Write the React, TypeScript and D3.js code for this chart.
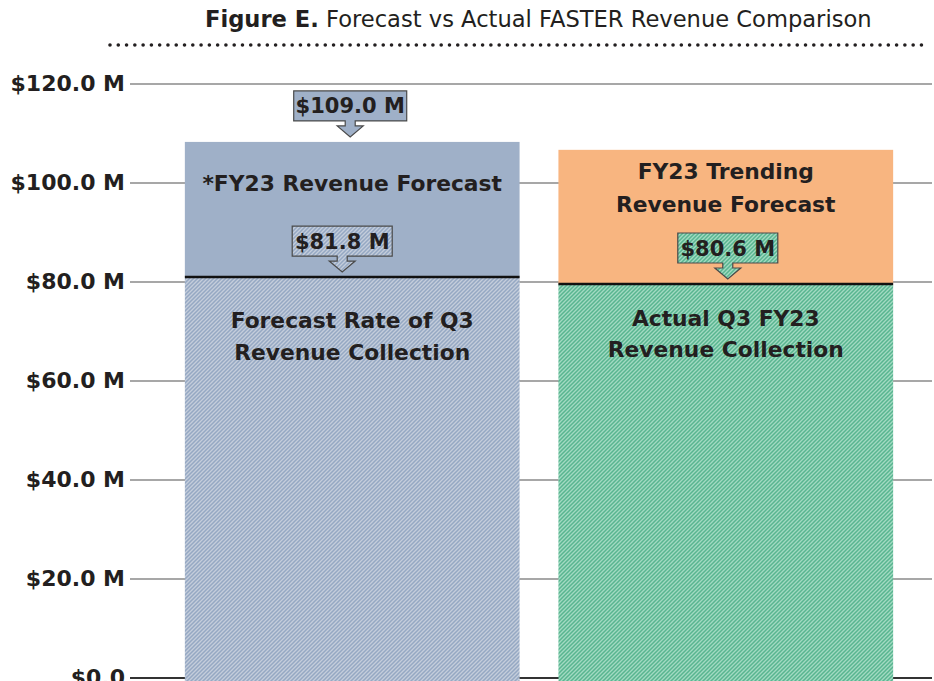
import React from "react";
import * as d3 from "d3";

// ---------- data ----------
const categories = ["Forecast", "Actual"];
const collectedValues = [81.0, 79.6]; // lower (hatched) segment, $M
const totalValues = [108.3, 106.7]; // full bar height, $M
const lowerLabels = [
  ["Forecast Rate of Q3", "Revenue Collection"],
  ["Actual Q3 FY23", "Revenue Collection"],
];
const upperLabels = [["*FY23 Revenue Forecast"], ["FY23 Trending", "Revenue Forecast"]];
const calloutTexts = ["$109.0 M", "$81.8 M", "$80.6 M"];
const calloutBars = [0, 0, 1];
const calloutOnTotal = [true, false, false];
const yTicks = [0, 20, 40, 60, 80, 100, 120];
const yTickLabels = ["$0.0", "$20.0 M", "$40.0 M", "$60.0 M", "$80.0 M", "$100.0 M", "$120.0 M"];
const titleBold = "Figure E.";
const titleRest = " Forecast vs Actual FASTER Revenue Comparison";

// ---------- layout ----------
const W = 934;
const H = 681;
const FONT = "'DejaVu Sans', Verdana, sans-serif";
const TEXT = "#231f20";

const y = d3.scaleLinear().domain([0, 120]).range([678, 84]);
const x = d3.scaleBand<string>().domain(categories).range([146, 932]).paddingInner(0.104).paddingOuter(0.104);

const upperFill = ["#9fb0c8", "#f8b580"];
const hatchIds = ["hatchBlue", "hatchGreen"];
const lowerLabelOffsets = [[51, 83], [42, 73]];
const upperLabelOffsets = [[-86], [-105, -72]];
const calloutDx = [-2, -10, 2];

function calloutPath(cx: number, tip: number, w: number) {
  const boxH = 30;
  const shaft = 5;
  const head = 11;
  const sw = 5;
  const hw = 13;
  const y1 = tip - head - shaft;
  const y0 = y1 - boxH;
  const x0 = cx - w / 2;
  const x1 = cx + w / 2;
  return `M${x0},${y0} H${x1} V${y1} H${cx + sw} V${y1 + shaft} H${cx + hw} L${cx},${tip} L${cx - hw},${y1 + shaft} H${cx - sw} V${y1} H${x0} Z`;
}

export default function App() {
  const bw = x.bandwidth();
  return (
    <svg
      width={W}
      height={H}
      style={{ position: "absolute", left: 0, top: 0, background: "#fff" }}
      fontFamily={FONT}
    >
      <defs>
        <pattern id="hatchBlue" width="4" height="4" patternUnits="userSpaceOnUse">
          <rect width="4" height="4" fill="#c4cddb" />
          <path d="M-1,1 L1,-1 M0,4 L4,0 M3,5 L5,3" stroke="#95a8c3" strokeWidth="1.5" />
        </pattern>
        <pattern id="hatchGreen" width="4" height="4" patternUnits="userSpaceOnUse">
          <rect width="4" height="4" fill="#a2dac2" />
          <path d="M-1,1 L1,-1 M0,4 L4,0 M3,5 L5,3" stroke="#58b590" strokeWidth="1.5" />
        </pattern>
      </defs>

      {/* title */}
      <text x={205} y={27} fontSize={22.6} fill={TEXT}>
        <tspan fontWeight="bold">{titleBold}</tspan>
        <tspan>{titleRest}</tspan>
      </text>
      <line
        x1={110}
        x2={926}
        y1={45}
        y2={45}
        stroke="#231f20"
        strokeWidth={3.6}
        strokeLinecap="round"
        strokeDasharray="0 8.28"
      />

      {/* gridlines and tick labels */}
      {yTicks.map((t, i) => (
        <g key={t}>
          <line
            x1={130}
            x2={932}
            y1={y(t)}
            y2={y(t)}
            stroke={t === 0 ? "#333" : "#8a8a8a"}
            strokeWidth={t === 0 ? 2 : 1.6}
          />
          <text
            x={125}
            y={y(t)}
            dy="0.3em"
            textAnchor="end"
            fontSize={22}
            fontWeight="bold"
            fill={TEXT}
          >
            {yTickLabels[i]}
          </text>
        </g>
      ))}

      {/* bars */}
      {categories.map((c, i) => {
        const x0 = x(c)!;
        const cx = x0 + bw / 2;
        const yTop = y(totalValues[i]);
        const yMid = y(collectedValues[i]);
        return (
          <g key={c}>
            <rect x={x0} y={yTop} width={bw} height={yMid - yTop} fill={upperFill[i]} />
            <rect x={x0} y={yMid} width={bw} height={H - yMid + 5} fill={`url(#${hatchIds[i]})`} />
            <line x1={x0} x2={x0 + bw} y1={yMid} y2={yMid} stroke="#111" strokeWidth={2.4} />
            {upperLabels[i].map((s, k) => (
              <text
                key={s}
                x={cx}
                y={yMid + upperLabelOffsets[i][k]}
                textAnchor="middle"
                fontSize={21.8}
                fontWeight="bold"
                fill={TEXT}
              >
                {s}
              </text>
            ))}
            {lowerLabels[i].map((s, k) => (
              <text
                key={s}
                x={cx}
                y={yMid + lowerLabelOffsets[i][k]}
                textAnchor="middle"
                fontSize={21.8}
                fontWeight="bold"
                fill={TEXT}
              >
                {s}
              </text>
            ))}
          </g>
        );
      })}

      {/* callouts */}
      {calloutTexts.map((t, j) => {
        const bi = calloutBars[j];
        const c = categories[bi];
        const cx = x(c)! + bw / 2 + calloutDx[j];
        const v = calloutOnTotal[j] ? totalValues[bi] : collectedValues[bi];
        const tip = y(v) - 5;
        const w = t.length * 13 + 9;
        const fill = calloutOnTotal[j] ? upperFill[bi] : `url(#${hatchIds[bi]})`;
        return (
          <g key={t}>
            <path d={calloutPath(cx, tip, w)} fill={fill} stroke="#4a4a4a" strokeWidth={1.2} />
            <text
              x={cx}
              y={tip - 16 - 15}
              dy="0.36em"
              textAnchor="middle"
              fontSize={21}
              fontWeight="bold"
              fill={TEXT}
            >
              {t}
            </text>
          </g>
        );
      })}
    </svg>
  );
}
